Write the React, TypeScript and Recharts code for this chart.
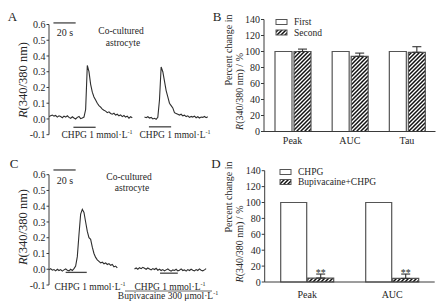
import React from 'react';
import {
  LineChart,
  Line,
  XAxis,
  YAxis,
  ReferenceLine,
  BarChart,
  Bar,
  ErrorBar,
  LabelList,
} from 'recharts';

const FONT = '"Liberation Serif", "Times New Roman", serif';
const INK = '#262626';
const AXIS = '#3a3a3a';

// ---------- Trace panels (A, C) ----------
const STEP = 1.5; // seconds between samples
const traceTicks = [-0.1, 0, 0.1, 0.2, 0.3, 0.4, 0.5, 0.6];

const a1Start = 0;
const a1Values = [
  0.015, 0.02, 0.025, 0.018, 0.022, 0.012, 0.02, 0.015, 0.008, 0.018,
  0.012, 0.02, 0.01, 0.004, 0.014, 0.006, 0.0, 0.01, 0.016, 0.002,
  0.006, 0.012, 0.06, 0.34, 0.3, 0.22, 0.17, 0.14, 0.12, 0.1,
  0.085, 0.075, 0.062, 0.055, 0.05, 0.04, 0.045, 0.035, 0.03, 0.036,
  0.025, 0.03, 0.02, 0.026, 0.015, 0.022, 0.012, 0.018, 0.005, 0.014,
  0.008,
];
const a2Start = 86;
const a2Values = [
  0.012, 0.008, 0.014, 0.006, 0.01, 0.0, 0.004, -0.002, 0.01, 0.12,
  0.33, 0.3, 0.24, 0.18, 0.14, 0.1, 0.085, 0.07, 0.04, 0.035,
  0.03, 0.025, 0.03, 0.02, 0.024, 0.015, 0.02, 0.01, 0.016, 0.012,
  0.018, 0.008, 0.014, 0.006, 0.012, 0.01, 0.016, 0.008, 0.014,
];
const c1Start = 0;
const c1Values = [
  -0.004, 0.004, -0.006, -0.002, -0.01, 0.0, -0.008, -0.002, -0.012, -0.004,
  0.002, -0.006, -0.01, 0.0, -0.008, 0.004, 0.02, 0.08, 0.22, 0.35,
  0.38, 0.36, 0.3, 0.24, 0.2, 0.19, 0.14, 0.1, 0.075, 0.06,
  0.05, 0.04, 0.045, 0.035, 0.04, 0.03, 0.036, 0.025, 0.03, 0.015,
  0.02, 0.008,
];
const c2Start = 77;
const c2Values = [
  0.002, 0.008, 0.0, 0.01, 0.004, 0.012, 0.006, 0.0, 0.008, 0.002,
  -0.004, 0.004, -0.002, 0.006, -0.006, 0.0, -0.008, -0.002, -0.01, -0.004,
  0.002, -0.006, -0.012, -0.004, -0.008, 0.0, -0.01, -0.006, 0.002, -0.008,
  -0.004, -0.012, -0.002, -0.008, 0.0, -0.006, -0.01, -0.002, -0.008, 0.002,
  -0.006, -0.01, -0.004, 0.004,
];

// drug application periods (seconds)
const aDrugPeriods = [
  [22, 42],
  [90, 110],
];
const cDrugPeriods = [
  [15, 34],
  [100, 116],
];
const scaleBarSeconds = 20;

// ---------- Bar panels (B, D) ----------
const bCategories = ['Peak', 'AUC', 'Tau'];
const bFirst = [100, 100, 100];
const bSecond = [100, 94, 99];
const bSecondErr = [3, 4, 7];
const pctTicks = [0, 20, 40, 60, 80, 100, 120, 140];

const dCategories = ['Peak', 'AUC'];
const dChpg = [100, 100];
const dBupi = [5, 4.5];
const dBupiErr = [5, 5.5];
const dSig = ['**', '**'];

const toSeries = (start: number, vals: number[]) =>
  vals.map((v, i) => ({ t: start + i * STEP, v }));

const bData = bCategories.map((c, i) => ({
  name: c,
  first: bFirst[i],
  second: bSecond[i],
  err: [0, bSecondErr[i]],
}));
const dData = dCategories.map((c, i) => ({
  name: c,
  chpg: dChpg[i],
  bupi: dBupi[i],
  err: [0, dBupiErr[i]],
  sig: dSig[i],
}));

const tickStyle = { fontSize: 10, fontFamily: FONT, fill: INK };

function TracePanel({
  seg1,
  seg2,
  drugs,
  drugY,
  scaleY,
  marginTop,
  marginBottom,
}: {
  seg1: { t: number; v: number }[];
  seg2: { t: number; v: number }[];
  drugs: number[][];
  drugY: number[];
  scaleY: number;
  marginTop: number;
  marginBottom: number;
}) {
  return (
    <LineChart
      width={224}
      height={151}
      margin={{ top: marginTop, right: 14, bottom: marginBottom, left: 9 }}
      style={{ fontFamily: FONT }}
    >
      <XAxis type="number" dataKey="t" domain={[0, 145]} hide height={0} allowDataOverflow />
      <YAxis
        type="number"
        domain={[-0.1, 0.6]}
        ticks={traceTicks}
        width={40}
        tickSize={2.5}
        tickMargin={1}
        tickFormatter={(v: number) => v.toFixed(1)}
        tick={tickStyle}
        axisLine={{ stroke: AXIS, strokeWidth: 1 }}
        tickLine={{ stroke: AXIS, strokeWidth: 1 }}
        interval={0}
        allowDataOverflow
      />
      <Line data={seg1} dataKey="v" stroke="#2e2e2e" strokeWidth={1.1} dot={false} isAnimationActive={false} />
      <Line data={seg2} dataKey="v" stroke="#2e2e2e" strokeWidth={1.1} dot={false} isAnimationActive={false} />
      {drugs.map((p, i) => (
        <ReferenceLine
          key={i}
          segment={[
            { x: p[0], y: drugY[i] },
            { x: p[1], y: drugY[i] },
          ]}
          stroke="#444"
          strokeWidth={1.3}
          ifOverflow="visible"
        />
      ))}
      <ReferenceLine
        segment={[
          { x: 4, y: scaleY },
          { x: 4 + scaleBarSeconds, y: scaleY },
        ]}
        stroke="#444"
        strokeWidth={1.3}
        ifOverflow="visible"
      />
    </LineChart>
  );
}

function Hatch({ id }: { id: string }) {
  return (
    <defs>
      <pattern id={id} patternUnits="userSpaceOnUse" width="4" height="4">
        <rect width="4" height="4" fill="#fff" />
        <path d="M-1,1 l2,-2 M0,4 l4,-4 M3,5 l2,-2" stroke="#111" strokeWidth="1.5" />
      </pattern>
    </defs>
  );
}

const Sup = ({ children }: { children: React.ReactNode }) => (
  <tspan fontSize={6} dy={-4}>
    {children}
  </tspan>
);

export default function App() {
  return (
    <div
      style={{
        position: 'absolute',
        left: 0,
        top: 0,
        width: 447,
        height: 302,
        background: '#fff',
        fontFamily: FONT,
      }}
    >
      <style>{`.recharts-wrapper text, .recharts-wrapper tspan { font-family: "Liberation Serif", "Times New Roman", serif !important; }`}</style>
      {/* Panel A */}
      <div style={{ position: 'absolute', left: 0, top: 0 }}>
        <TracePanel
          seg1={toSeries(a1Start, a1Values)}
          seg2={toSeries(a2Start, a2Values)}
          drugs={aDrugPeriods}
          drugY={[-0.053, -0.05]}
          scaleY={0.61}
          marginTop={24.5}
          marginBottom={16.3}
        />
      </div>
      {/* Panel C */}
      <div style={{ position: 'absolute', left: 0, top: 151 }}>
        <TracePanel
          seg1={toSeries(c1Start, c1Values)}
          seg2={toSeries(c2Start, c2Values)}
          drugs={cDrugPeriods}
          drugY={[-0.02, -0.025]}
          scaleY={0.63}
          marginTop={23.7}
          marginBottom={17}
        />
      </div>
      {/* Panel B */}
      <div style={{ position: 'absolute', left: 224, top: 0 }}>
        <BarChart
          width={223}
          height={151}
          data={bData}
          margin={{ top: 19.5, right: 11.5, bottom: 0, left: 0 }}
          barGap={2}
          style={{ fontFamily: FONT }}
        >
          <Hatch id="hatchB" />
          <XAxis
            dataKey="name"
            height={19.5}
            tickLine={false}
            tickSize={0}
            tickMargin={5}
            tick={tickStyle}
            axisLine={{ stroke: AXIS, strokeWidth: 1 }}
          />
          <YAxis
            domain={[0, 140]}
            ticks={pctTicks}
            width={40}
            tickSize={3}
            tickMargin={1}
            tick={tickStyle}
            interval={0}
            axisLine={{ stroke: AXIS, strokeWidth: 1 }}
            tickLine={{ stroke: AXIS, strokeWidth: 1 }}
          />
          <Bar dataKey="first" fill="#fff" stroke="#555" strokeWidth={1.2} barSize={17} isAnimationActive={false} />
          <Bar dataKey="second" fill="url(#hatchB)" stroke="#555" strokeWidth={1.2} barSize={17} isAnimationActive={false}>
            <ErrorBar dataKey="err" width={4.5} stroke="#333" strokeWidth={1.1} direction="y" />
          </Bar>
        </BarChart>
      </div>
      {/* Panel D */}
      <div style={{ position: 'absolute', left: 224, top: 151 }}>
        <BarChart
          width={223}
          height={151}
          data={dData}
          margin={{ top: 19.7, right: 12.3, bottom: 0, left: 0.7 }}
          barGap={1}
          style={{ fontFamily: FONT }}
        >
          <Hatch id="hatchD" />
          <XAxis
            dataKey="name"
            height={20}
            tickLine={false}
            tickSize={0}
            tickMargin={9}
            tick={tickStyle}
            axisLine={{ stroke: AXIS, strokeWidth: 1 }}
          />
          <YAxis
            domain={[0, 140]}
            ticks={pctTicks}
            width={40}
            tickSize={3}
            tickMargin={1}
            tick={tickStyle}
            interval={0}
            axisLine={{ stroke: AXIS, strokeWidth: 1 }}
            tickLine={{ stroke: AXIS, strokeWidth: 1 }}
          />
          <Bar dataKey="chpg" fill="#fff" stroke="#555" strokeWidth={1.2} barSize={26} isAnimationActive={false} />
          <Bar dataKey="bupi" fill="url(#hatchD)" stroke="#555" strokeWidth={1.2} barSize={26} isAnimationActive={false}>
            <ErrorBar dataKey="err" width={4.5} stroke="#333" strokeWidth={1.1} direction="y" />
            <LabelList dataKey="sig" position="top" offset={2} style={{ fontSize: 10, fontFamily: FONT, fill: INK }} />
          </Bar>
        </BarChart>
      </div>

      {/* Text overlay */}
      <svg
        width={447}
        height={302}
        style={{ position: 'absolute', left: 0, top: 0, pointerEvents: 'none' }}
        fontFamily={FONT}
        fill={INK}
      >
        <defs>
          <pattern id="hatchL" patternUnits="userSpaceOnUse" width="4" height="4">
            <rect width="4" height="4" fill="#fff" />
            <path d="M-1,1 l2,-2 M0,4 l4,-4 M3,5 l2,-2" stroke="#111" strokeWidth="1.5" />
          </pattern>
        </defs>
        {/* panel letters */}
        <text x={12.5} y={21} fontSize={13} textAnchor="middle">A</text>
        <text x={217} y={21} fontSize={13} textAnchor="middle">B</text>
        <text x={14} y={168} fontSize={13} textAnchor="middle">C</text>
        <text x={216} y={168} fontSize={13} textAnchor="middle">D</text>

        {/* Panel A texts */}
        <text transform="translate(26.5,80) rotate(-90)" textAnchor="middle" fontSize={12.5}>
          <tspan fontStyle="italic">R</tspan>(340/380 nm)
        </text>
        <text x={65} y={36} fontSize={10} textAnchor="middle">20 s</text>
        <text x={121} y={34} fontSize={9.5} textAnchor="middle">Co-cultured</text>
        <text x={123} y={45.5} fontSize={9.5} textAnchor="middle">astrocyte</text>
        <text x={97} y={137.5} fontSize={9.5} textAnchor="middle">
          CHPG 1 mmol·L<Sup>-1</Sup>
        </text>
        <text x={175} y={137.5} fontSize={9.5} textAnchor="middle">
          CHPG 1 mmol·L<Sup>-1</Sup>
        </text>

        {/* Panel C texts */}
        <text transform="translate(26.5,227) rotate(-90)" textAnchor="middle" fontSize={12.5}>
          <tspan fontStyle="italic">R</tspan>(340/380 nm)
        </text>
        <text x={65} y={183.5} fontSize={10} textAnchor="middle">20 s</text>
        <text x={129} y={179.5} fontSize={9.5} textAnchor="middle">Co-cultured</text>
        <text x={132} y={190.5} fontSize={9.5} textAnchor="middle">astrocyte</text>
        <text x={90} y={290} fontSize={9.5} textAnchor="middle">
          CHPG 1 mmol·L<Sup>-1</Sup>
        </text>
        <text x={170} y={289.5} fontSize={9.5} textAnchor="middle">
          CHPG 1 mmol·L<Sup>-1</Sup>
        </text>
        <line x1={125} x2={212} y1={291} y2={291} stroke="#444" strokeWidth={0.8} />
        <text x={168} y={299} fontSize={9.5} textAnchor="middle">
          Bupivacaine 300 μmol·L<Sup>-1</Sup>
        </text>

        {/* Panel B texts */}
        <text transform="translate(231.5,50) rotate(-90)" textAnchor="middle" fontSize={10}>
          Percent change in
        </text>
        <text transform="translate(242.5,91.5) rotate(-90)" textAnchor="middle" fontSize={10}>
          <tspan fontStyle="italic">R</tspan>(340/380 nm) / %
        </text>
        <rect x={276} y={19.5} width={11} height={5} fill="#fff" stroke="#555" strokeWidth={1} />
        <text x={294} y={25} fontSize={9.5}>First</text>
        <rect x={276} y={30} width={11} height={5} fill="url(#hatchL)" stroke="#555" strokeWidth={1} />
        <text x={294} y={35.5} fontSize={9.5}>Second</text>

        {/* Panel D texts */}
        <text transform="translate(231.5,197) rotate(-90)" textAnchor="middle" fontSize={10}>
          Percent change in
        </text>
        <text transform="translate(242.5,244) rotate(-90)" textAnchor="middle" fontSize={10}>
          <tspan fontStyle="italic">R</tspan>(340/380 nm) / %
        </text>
        <rect x={280} y={169.5} width={11} height={5} fill="#fff" stroke="#555" strokeWidth={1} />
        <text x={298} y={175} fontSize={9.5}>CHPG</text>
        <rect x={280} y={179.5} width={11} height={5} fill="url(#hatchL)" stroke="#555" strokeWidth={1} />
        <text x={298} y={185} fontSize={9.5}>Bupivacaine+CHPG</text>
      </svg>
    </div>
  );
}
